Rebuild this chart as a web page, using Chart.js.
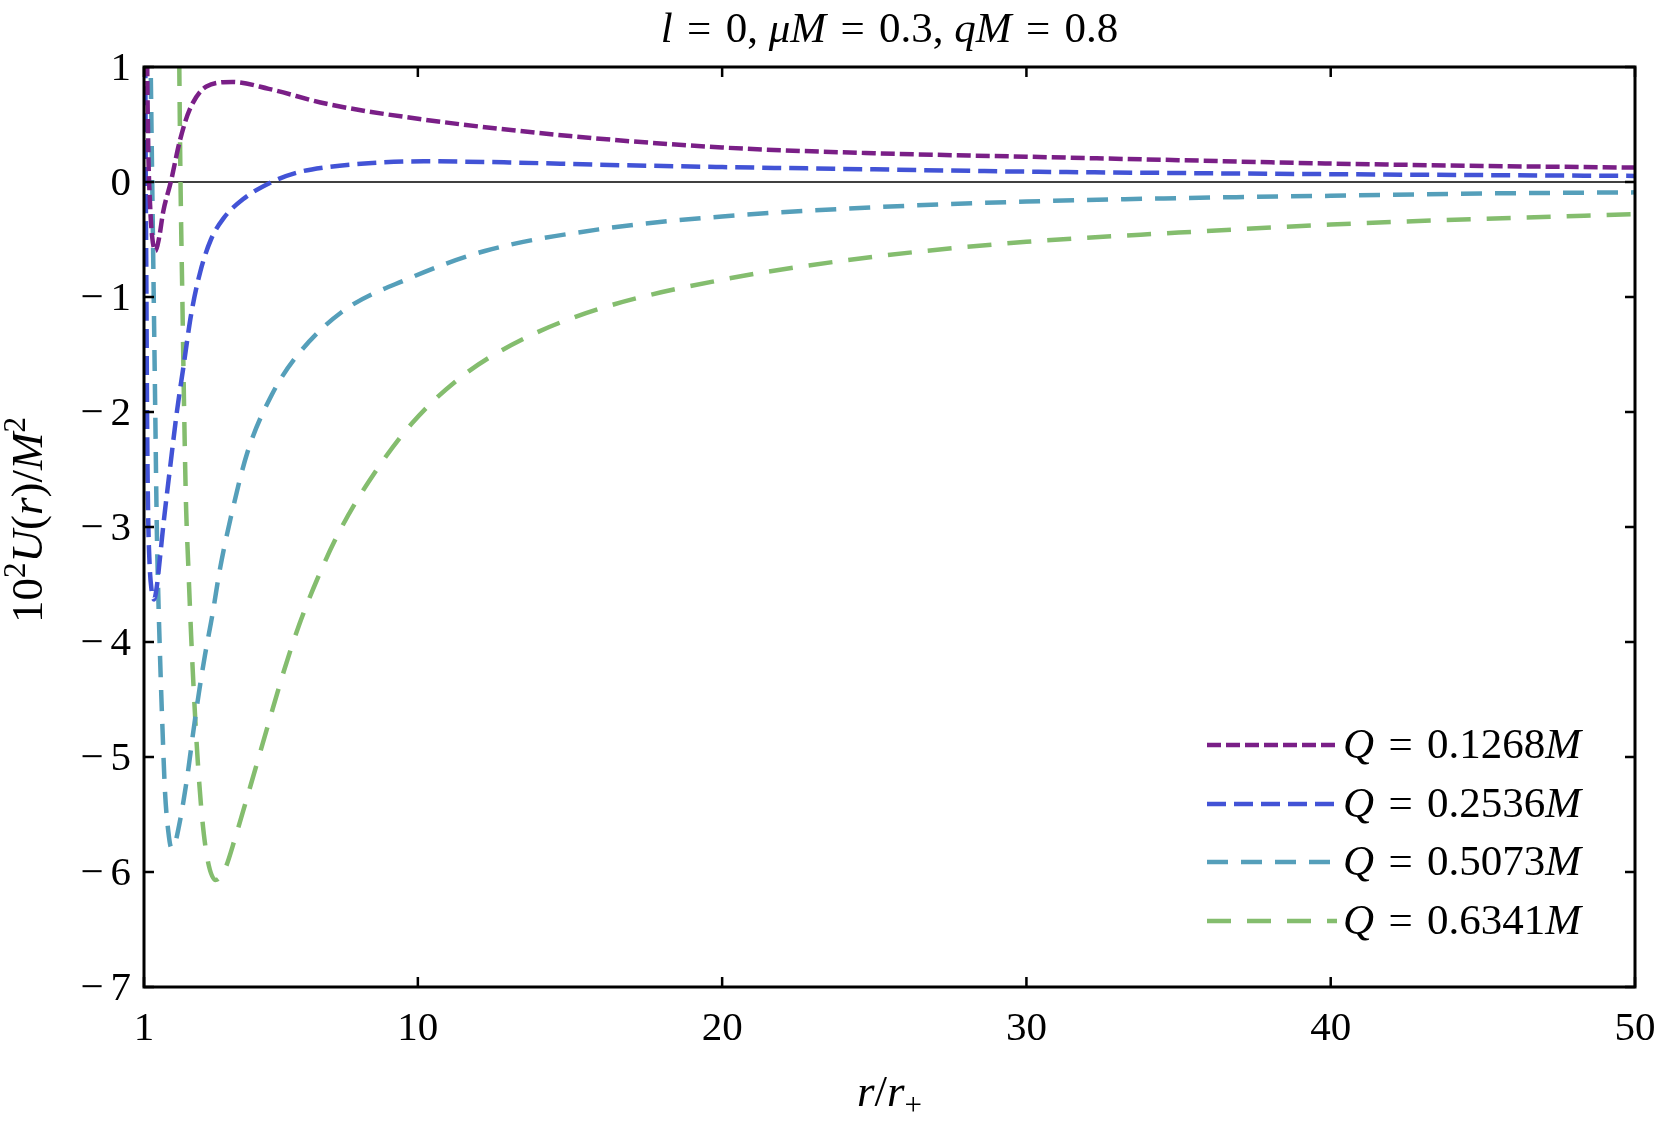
<!DOCTYPE html>
<html>
<head>
<meta charset="utf-8">
<script src="https://cdn.jsdelivr.net/npm/chart.js@4.4.1/dist/chart.umd.min.js"></script>
<style>
  html, body { margin: 0; padding: 0; background: #fff; }
  #wrap { width: 1661px; height: 1129px; position: relative; }
</style>
</head>
<body>
<div id="wrap"><canvas id="potChart"></canvas></div>
<script>
// --- values ---
const xTicks = [1, 10, 20, 30, 40, 50];
const yTicks = [1, 0, -1, -2, -3, -4, -5, -6, -7];
const chargeLabels = ['0.1268', '0.2536', '0.5073', '0.6341'];

const rQ1 = [1.0, 1.1, 1.14, 1.2, 1.27, 1.38, 1.5, 1.63, 1.88, 2.18, 2.5, 3.05, 3.9, 5.1, 7, 10, 15, 20, 25, 30, 35, 40, 45, 50];
const uQ1 = [6, 1.2, 0.3, -0.2, -0.48, -0.6, -0.48, -0.26, 0, 0.36, 0.63, 0.83, 0.87, 0.81, 0.68, 0.55, 0.4, 0.3, 0.25, 0.22, 0.19, 0.16, 0.14, 0.125];

const rQ2 = [1.0, 1.05, 1.08, 1.1, 1.13, 1.18, 1.25, 1.33, 1.42, 1.52, 1.65, 1.85, 2.08, 2.3, 2.55, 2.85, 3.2, 3.6, 4.25, 5.2, 6.0, 6.9, 8.5, 10.2, 13, 16, 20, 25, 30, 35, 40, 45, 50];
const uQ2 = [6, 0.5, -1.0, -2.0, -2.8, -3.3, -3.55, -3.63, -3.52, -3.28, -2.95, -2.5, -2.0, -1.6, -1.15, -0.78, -0.5, -0.32, -0.15, 0, 0.08, 0.125, 0.165, 0.18, 0.17, 0.15, 0.13, 0.11, 0.09, 0.078, 0.068, 0.06, 0.053];

const rQ3 = [1.0, 1.15, 1.22, 1.27, 1.32, 1.37, 1.42, 1.47, 1.53, 1.6, 1.69, 1.8, 1.9, 2.02, 2.15, 2.3, 2.46, 2.62, 2.8, 3.0, 3.25, 3.5, 3.85, 4.4, 5.2, 6.0, 7.5, 9.7, 12.2, 16, 20, 25, 30, 35, 40, 45, 50];
const uQ3 = [8, 2.5, 1, 0, -1, -2, -3, -3.6, -4.15, -4.7, -5.3, -5.65, -5.79, -5.75, -5.6, -5.38, -5.1, -4.78, -4.45, -4.12, -3.76, -3.36, -2.92, -2.35, -1.85, -1.52, -1.13, -0.84, -0.6, -0.41, -0.3, -0.22, -0.17, -0.14, -0.12, -0.1, -0.09];

const rQ4 = [2.0, 2.12, 2.16, 2.2, 2.26, 2.32, 2.38, 2.45, 2.55, 2.65, 2.77, 2.9, 3.08, 3.35, 3.65, 4.0, 4.5, 5.1, 5.6, 6.1, 6.7, 7.4, 8.4, 9.8, 11.5, 13.5, 16, 20, 25, 30, 35, 40, 45, 50];
const uQ4 = [8, 2.2, 1, 0, -1, -2, -2.8, -3.3, -3.95, -4.5, -5.05, -5.5, -5.88, -6.07, -5.98, -5.7, -5.25, -4.7, -4.25, -3.85, -3.45, -3.05, -2.6, -2.1, -1.68, -1.36, -1.1, -0.85, -0.65, -0.52, -0.44, -0.37, -0.32, -0.28];

const colors = ['#7a1f87', '#4253d6', '#559fba', '#84bd6e'];
const dashes = [[14, 5], [19, 8], [21, 13], [24, 16]];

const toPoints = (rs, us) => rs.map((r, i) => ({ x: r, y: us[i] }));
const series = [[rQ1, uQ1], [rQ2, uQ2], [rQ3, uQ3], [rQ4, uQ4]];

const datasets = series.map(([rs, us], i) => ({
    label: 'Q = ' + chargeLabels[i] + 'M',
    data: toPoints(rs, us),
    borderColor: colors[i],
    borderWidth: 4.5,
    borderDash: dashes[i],
    borderCapStyle: 'butt',
    pointRadius: 0,
    fill: false,
    cubicInterpolationMode: 'monotone'
}));

const FONT = '"Liberation Serif", "Times New Roman", serif';
const EQ = '\u2004=\u2004';

// draw a row of text pieces, some italic, some raised or lowered
function drawRuns(c, runs, x, y, size, align) {
    const fontOf = r => (r.it ? 'italic ' : '') + Math.round(r.small ? size * 0.7 : size) + 'px ' + FONT;
    let total = 0;
    runs.forEach(r => { c.font = fontOf(r); total += c.measureText(r.t).width; });
    let cx = align === 'center' ? x - total / 2 : (align === 'right' ? x - total : x);
    c.textAlign = 'left';
    c.textBaseline = 'alphabetic';
    runs.forEach(r => {
        c.font = fontOf(r);
        const dy = r.sup ? -size * 0.38 : (r.sub ? size * 0.2 : 0);
        c.fillText(r.t, cx, y + dy);
        cx += c.measureText(r.t).width;
    });
}

const framePlugin = {
    id: 'framePlugin',
    beforeDatasetsDraw(chart) {
        const { ctx: c, chartArea: a, scales: { y } } = chart;
        c.save();
        c.strokeStyle = '#000';
        c.lineWidth = 1.3;
        const y0 = y.getPixelForValue(0);
        c.beginPath();
        c.moveTo(a.left, y0);
        c.lineTo(a.right, y0);
        c.stroke();
        c.restore();
    },
    afterDraw(chart) {
        const { ctx: c, chartArea: a, scales: { x, y } } = chart;
        c.save();
        c.fillStyle = '#000';
        c.strokeStyle = '#000';

        // ticks, inward on all sides
        c.lineWidth = 2.5;
        c.beginPath();
        yTicks.forEach(v => {
            const py = y.getPixelForValue(v);
            c.moveTo(a.left, py); c.lineTo(a.left + 10, py);
            c.moveTo(a.right, py); c.lineTo(a.right - 10, py);
        });
        xTicks.forEach(v => {
            const px = x.getPixelForValue(v);
            c.moveTo(px, a.bottom); c.lineTo(px, a.bottom - 10);
            c.moveTo(px, a.top); c.lineTo(px, a.top + 10);
        });
        c.stroke();

        // frame
        c.lineWidth = 3;
        c.strokeRect(a.left, a.top, a.right - a.left, a.bottom - a.top);

        // tick labels
        const fs = 41;
        c.font = fs + 'px ' + FONT;
        c.textBaseline = 'alphabetic';
        yTicks.forEach(v => {
            const py = y.getPixelForValue(v) + 13;
            const digit = String(Math.abs(v));
            c.textAlign = 'right';
            c.fillText(digit, a.left - 13, py);
            if (v < 0) {
                const w = c.measureText(digit).width;
                c.fillText('\u2212', a.left - 13 - w - 7, py);
            }
        });
        c.textAlign = 'center';
        xTicks.forEach(v => {
            c.fillText(String(v), x.getPixelForValue(v), a.bottom + 53);
        });

        // title
        drawRuns(c, [
            { t: 'l', it: true }, { t: EQ + '0, ' }, { t: '\u03bcM', it: true }, { t: EQ + '0.3, ' },
            { t: 'qM', it: true }, { t: EQ + '0.8' }
        ], (a.left + a.right) / 2, 42, 43, 'center');

        // x axis title
        drawRuns(c, [
            { t: 'r', it: true }, { t: '/' }, { t: 'r', it: true }, { t: '+', small: true, sub: true }
        ], (a.left + a.right) / 2, 1106, 45, 'center');

        // y axis title
        c.save();
        c.translate(42, 520);
        c.rotate(-Math.PI / 2);
        drawRuns(c, [
            { t: '10' }, { t: '2', small: true, sup: true }, { t: 'U', it: true }, { t: '(' },
            { t: 'r', it: true }, { t: ')/' }, { t: 'M', it: true }, { t: '2', small: true, sup: true }
        ], 0, 0, 45, 'center');
        c.restore();

        // legend
        const rowY = [745, 804, 862, 921];
        chart.data.datasets.forEach((ds, i) => {
            c.save();
            c.strokeStyle = ds.borderColor;
            c.lineWidth = ds.borderWidth;
            c.setLineDash(ds.borderDash);
            c.beginPath();
            c.moveTo(1207, rowY[i]);
            c.lineTo(1337, rowY[i]);
            c.stroke();
            c.restore();
            drawRuns(c, [
                { t: 'Q', it: true }, { t: EQ + chargeLabels[i] }, { t: 'M', it: true }
            ], 1343, rowY[i] + 13, 43, 'left');
        });
        c.restore();
    }
};

new Chart(document.getElementById('potChart').getContext('2d'), {
    type: 'line',
    data: { datasets },
    options: {
        responsive: true,
        maintainAspectRatio: false,
        animation: false,
        layout: { padding: { left: 144, right: 26, top: 67, bottom: 142 } },
        scales: {
            x: { type: 'linear', min: 1, max: 50, display: false },
            y: { type: 'linear', min: -7, max: 1, display: false }
        },
        plugins: { legend: { display: false }, tooltip: { enabled: false } }
    },
    plugins: [framePlugin]
});
</script>
</body>
</html>
